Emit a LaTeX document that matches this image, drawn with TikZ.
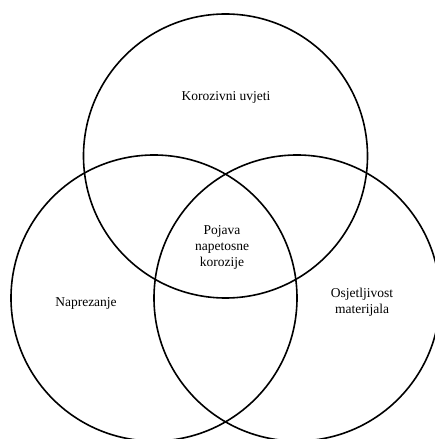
\documentclass[tikz,border=0pt]{standalone}
\usepackage{fontspec}
\setmainfont{Liberation Serif}
\begin{document}
\begin{tikzpicture}[x=1pt,y=1pt,line width=1.6pt,
	venntext/.style={align=center,font=\fontsize{13.5}{16}\selectfont}]
		\useasboundingbox (0,0) rectangle (435,439);
		\clip (0,0) rectangle (435,439);
		\draw (225.5,283) circle[radius=142];
		\draw (154,141) circle[radius=143];
		\draw (297,141) circle[radius=143];
		\node[venntext] (uvjeti) at (226,342) {Korozivni uvjeti};
		\node[venntext] (pojava) at (222,192) {Pojava\\napetosne\\korozije};
		\node[venntext] (naprezanje) at (86,136) {Naprezanje};
		\node[venntext] (osjetljivost) at (362,137) {Osjetljivost\\materijala};
		\end{tikzpicture}
\end{document}
